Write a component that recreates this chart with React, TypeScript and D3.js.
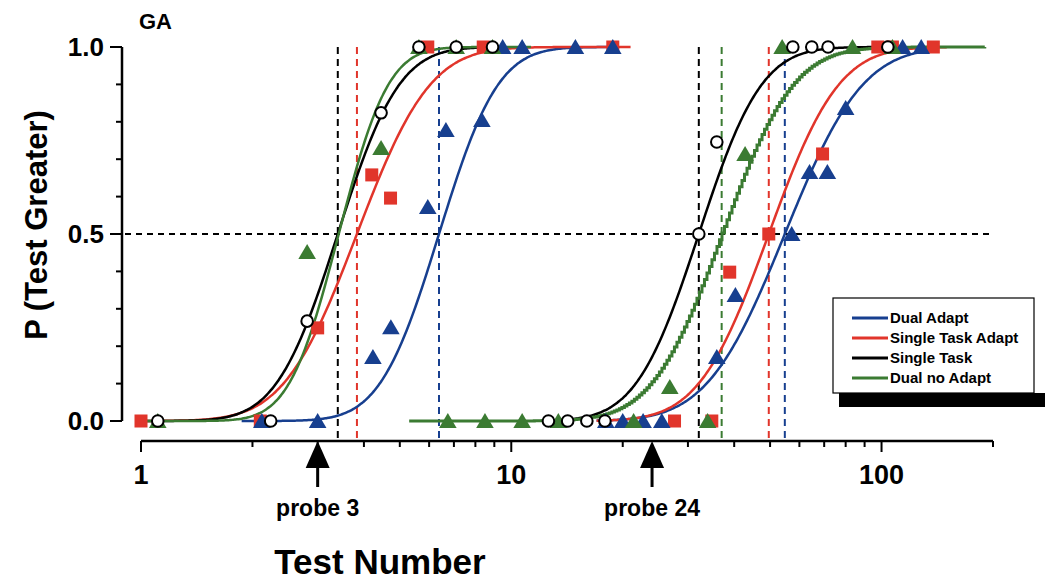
import React, { useEffect } from 'react';
import * as d3 from 'd3';

const W = 1045;
const H = 580;

const conditions = ['Dual Adapt', 'Single Task Adapt', 'Single Task', 'Dual no Adapt'];
const colors = ['#173f8f', '#e1352b', '#000000', '#3b7b32'];

// fitted psychometric functions, one per probe (probe 3, probe 24)
const probeTests = [3, 24];
const probeLabels = ['probe 3', 'probe 24'];
const fitPse = [[6.38, 54.8], [3.83, 49.6], [3.4, 32.1], [3.42, 37.0]];
const fitSpread = [[0.125, 0.165], [0.155, 0.148], [0.13, 0.133], [0.105, 0.15]];
const fitFrom = [[1.87, 17], [1, 17], [1, 12], [1, 5.3]];
const fitTo = [[19, 136], [21, 150], [8.9, 104], [11.3, 190]];
const pseMarked = [[true, true], [true, true], [true, true], [false, true]];

// observed points [test number, P(test greater)]
const dualAdaptPts = [
  [2.12, 0], [3.0, 0], [4.23, 0.171], [4.73, 0.251], [5.95, 0.572], [6.66, 0.778], [8.33, 0.805],
  [9.48, 1], [10.7, 1], [14.9, 1], [18.8, 1],
  [18.0, 0], [20.0, 0], [22.7, 0], [25.5, 0], [35.9, 0.171], [40.3, 0.337], [57.2, 0.5],
  [63.9, 0.666], [71.4, 0.666], [80.0, 0.837], [114, 1], [128, 1],
];
const singleAdaptPts = [
  [1.0, 0], [2.1, 0], [3.0, 0.249], [4.2, 0.658], [4.72, 0.596], [5.95, 1], [8.4, 1], [18.8, 1],
  [27.6, 0], [34.8, 0], [38.9, 0.398], [49.6, 0.5], [69.3, 0.714], [97.7, 1], [107, 1], [138, 1],
];
const singleTaskPts = [
  [1.11, 0], [2.24, 0], [2.81, 0.267], [4.45, 0.824], [5.63, 1], [7.1, 1], [8.9, 1],
  [12.6, 0], [14.2, 0], [16.0, 0], [17.9, 0], [32.1, 0.5], [35.9, 0.746],
  [57.6, 1], [64.8, 1], [71.7, 1], [104, 1],
];
const dualNoAdaptPts = [
  [1.11, 0], [2.81, 0.452], [4.45, 0.73], [5.63, 1], [7.1, 1], [8.9, 1],
  [6.74, 0], [8.49, 0], [10.7, 0], [13.4, 0], [21.4, 0], [26.8, 0.091], [33.9, 0],
  [42.8, 0.714], [53.9, 1], [83.5, 1], [107, 1],
];

const xTicksMajor = [1, 10, 100];
const yTicks = [0, 0.1, 0.2, 0.3, 0.4, 0.5, 0.6, 0.7, 0.8, 0.9, 1.0];
const yTickLabels = ['0.0', '0.5', '1.0'];

const FONT = "'Liberation Sans', Arial, Helvetica, sans-serif";

function phi(z: number) {
  const a = Math.abs(z) / Math.SQRT2;
  const t = 1 / (1 + 0.3275911 * a);
  const e = 1 - ((((1.061405429 * t - 1.453152027) * t + 1.421413741) * t - 0.284496736) * t + 0.254829592) * t * Math.exp(-a * a);
  return z >= 0 ? 0.5 * (1 + e) : 0.5 * (1 - e);
}

const x = d3.scaleLog().domain([1, 200]).range([141, 993]);
const y = d3.scaleLinear().domain([0, 1]).range([421, 47]);
const axisY = 441;
const yAxisX = 122;

function fitPath(c: number, g: number) {
  const lf = Math.log10(fitFrom[c][g]);
  const lt = Math.log10(fitTo[c][g]);
  // the dual no adapt probe-24 fit is drawn as a fine staircase in the original
  const stepped = c === 3 && g === 1;
  const n = stepped ? 230 : 240;
  const m = Math.log10(fitPse[c][g]);
  const s = fitSpread[c][g];
  const pts: [number, number][] = d3.range(n + 1).map(i => {
    const l = lf + ((lt - lf) * i) / n;
    return [Math.pow(10, l), phi((l - m) / s)];
  });
  const line = d3.line<[number, number]>()
    .x(d => x(d[0]))
    .y(d => y(d[1]))
    .curve(stepped ? d3.curveStepAfter : d3.curveMonotoneX);
  return line(pts) || '';
}

function Triangle({ px, py, fill }: { px: number; py: number; fill: string }) {
  return <path d={`M${px},${py - 8}L${px + 8.8},${py + 7}L${px - 8.8},${py + 7}Z`} fill={fill} />;
}

export default function App() {
  useEffect(() => {
    document.body.style.margin = '0';
  }, []);

  const curveOrder = [0, 1, 2, 3];

  return (
    <svg width={W} height={H} style={{ display: 'block', background: '#fff' }} fontFamily={FONT} fontWeight="bold">
      {/* y axis */}
      <line x1={yAxisX} x2={yAxisX} y1={y(0)} y2={y(1)} stroke="#000" strokeWidth={2.5} />
      {yTicks.map((t, i) => {
        const major = i % 5 === 0;
        return (
          <line key={'yt' + i} x1={yAxisX - (major ? 12 : 6)} x2={yAxisX} y1={y(t)} y2={y(t)} stroke="#000" strokeWidth={2} />
        );
      })}
      {yTickLabels.map((lab, i) => (
        <text key={'yl' + i} x={104} y={y(i * 0.5) + 9} textAnchor="end" fontSize={26}>{lab}</text>
      ))}
      <text transform="translate(47,225) rotate(-90)" textAnchor="middle" fontSize={31}>P (Test Greater)</text>
      <text x={139} y={29} fontSize={22}>GA</text>

      {/* x axis */}
      <line x1={x(1)} x2={x(200)} y1={axisY} y2={axisY} stroke="#000" strokeWidth={2.5} />
      {x.ticks().map((t, i) => {
        const major = xTicksMajor.includes(t);
        return (
          <line key={'xt' + i} x1={x(t)} x2={x(t)} y1={axisY} y2={axisY + (major ? 11 : 6)} stroke="#000" strokeWidth={2} />
        );
      })}
      {xTicksMajor.map(t => (
        <text key={'xl' + t} x={x(t)} y={484} textAnchor="middle" fontSize={27}>{t}</text>
      ))}
      {probeTests.map((p, i) => (
        <g key={'pr' + i}>
          <path d={`M${x(p)},${axisY}L${x(p) + 12},${axisY + 27}L${x(p) - 12},${axisY + 27}Z`} fill="#000" />
          <rect x={x(p) - 1.5} y={axisY + 25} width={3} height={21} fill="#000" />
          <text x={x(p)} y={516} textAnchor="middle" fontSize={23}>{probeLabels[i]}</text>
        </g>
      ))}
      <text x={380} y={574} textAnchor="middle" fontSize={35}>Test Number</text>

      {/* reference lines */}
      <line x1={125} x2={992} y1={y(0.5)} y2={y(0.5)} stroke="#000" strokeWidth={1.8} strokeDasharray="6,5" />
      {conditions.map((c, ci) =>
        fitPse[ci].map((v, g) =>
          pseMarked[ci][g] ? (
            <line key={`pse${ci}-${g}`} x1={x(v)} x2={x(v)} y1={y(1)} y2={axisY - 1} stroke={colors[ci]} strokeWidth={2} strokeDasharray="7,5" />
          ) : null
        )
      )}

      {/* fitted curves */}
      {curveOrder.map(ci =>
        [0, 1].map(g => (
          <path key={`fit${ci}-${g}`} d={fitPath(ci, g)} fill="none" stroke={colors[ci]} strokeWidth={ci === 3 && g === 1 ? 3 : 2.5} />
        ))
      )}

      {/* points */}
      {singleAdaptPts.map((d, i) => (
        <rect key={'sa' + i} x={x(d[0]) - 6.5} y={y(d[1]) - 6.5} width={13} height={13} fill={colors[1]} />
      ))}
      {dualAdaptPts.map((d, i) => (
        <Triangle key={'da' + i} px={x(d[0])} py={y(d[1])} fill={colors[0]} />
      ))}
      {dualNoAdaptPts.map((d, i) => (
        <Triangle key={'dn' + i} px={x(d[0])} py={y(d[1])} fill={colors[3]} />
      ))}
      {singleTaskPts.map((d, i) => (
        <circle key={'st' + i} cx={x(d[0])} cy={y(d[1])} r={5.8} fill="#fff" stroke="#000" strokeWidth={2} />
      ))}

      {/* legend */}
      <rect x={839} y={393} width={210} height={14} fill="#000" />
      <rect x={833} y={298} width={201} height={95} fill="#fff" stroke="#000" strokeWidth={1.2} />
      {conditions.map((c, i) => (
        <g key={'lg' + i} transform={`translate(0,${318 + i * 20})`}>
          <line x1={852} x2={888} y1={0} y2={0} stroke={colors[i]} strokeWidth={3} />
          <text x={890} y={5} fontSize={15}>{c}</text>
        </g>
      ))}
    </svg>
  );
}
